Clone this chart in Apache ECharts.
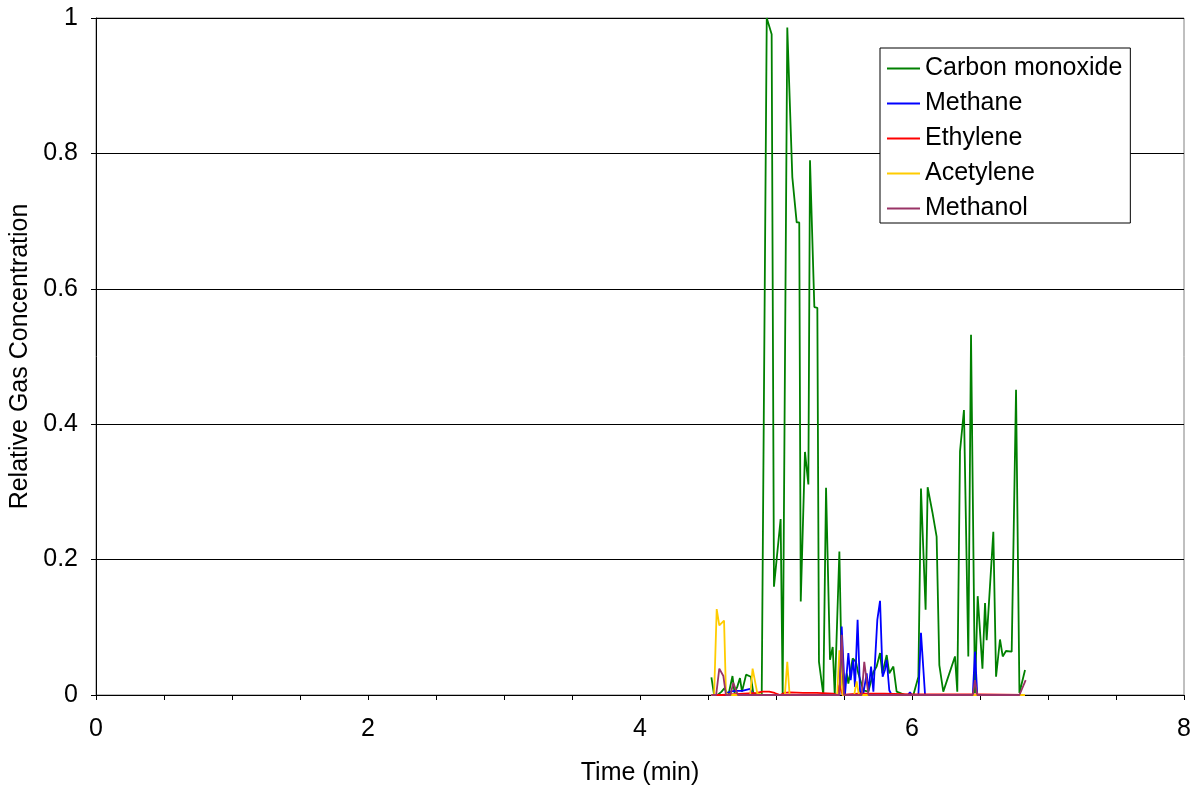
<!DOCTYPE html>
<html>
<head>
<meta charset="utf-8">
<script src="https://cdn.jsdelivr.net/npm/echarts@6/dist/echarts.min.js"></script>
<style>
  html, body { margin: 0; padding: 0; background: #fff; }
</style>
</head>
<body>
<div id="chart" style="width: 1194px;height:788px;"></div>
<script type="text/javascript">

    // time axis ticks (min) and labelled ticks
    var xTicks = [0, 2, 4, 6, 8];
    var yTicks = [0, 0.2, 0.4, 0.6, 0.8, 1];

    var seriesNames = ['Carbon monoxide', 'Methane', 'Ethylene', 'Acetylene', 'Methanol'];

    // Carbon monoxide
    var coTime = [4.525, 4.545, 4.57, 4.60, 4.62, 4.65, 4.68, 4.695, 4.715, 4.735, 4.75, 4.78, 4.815, 4.833, 4.86, 4.895,
        4.932, 4.968, 4.985, 5.034, 5.049, 5.083, 5.12, 5.152, 5.171, 5.182, 5.213, 5.238, 5.25, 5.282, 5.304, 5.316,
        5.348, 5.368, 5.397, 5.417, 5.432, 5.466, 5.483, 5.5, 5.52, 5.532, 5.564, 5.588, 5.605, 5.642, 5.679, 5.716,
        5.74, 5.765, 5.782, 5.814, 5.833, 5.863, 5.887, 5.95, 6.01, 6.047, 6.066, 6.1, 6.115, 6.15, 6.181, 6.201, 6.23,
        6.316, 6.333, 6.353, 6.382, 6.414, 6.434, 6.463, 6.483, 6.518, 6.537, 6.549, 6.598, 6.618, 6.647, 6.667, 6.691,
        6.733, 6.765, 6.79, 6.831];
    var coValue = [0.026, 0, 0, 0.005, 0.01, 0, 0.028, 0.003, 0.012, 0.025, 0.005, 0.03, 0.027, 0.003, 0, 0,
        1.0, 0.976, 0.16, 0.26, 0, 0.986, 0.765, 0.698, 0.698, 0.138, 0.359, 0.311, 0.79, 0.573, 0.572, 0.049,
        0, 0.306, 0.052, 0.071, 0, 0.212, 0.032, 0.005, 0.032, 0.017, 0.054, 0.049, 0.032, 0.007, 0.005, 0.034,
        0.042, 0.062, 0.032, 0.059, 0.032, 0.042, 0.005, 0, 0, 0.027, 0.305, 0.126, 0.307, 0.27, 0.234, 0.044, 0.005,
        0.057, 0.005, 0.36, 0.421, 0.057, 0.532, 0.003, 0.146, 0.039, 0.136, 0.081, 0.241, 0.027, 0.082, 0.057, 0.065,
        0.064, 0.451, 0.003, 0.037];

    // Methane
    var ch4Time = [4.525, 4.625, 4.66, 4.70, 4.75, 4.81, 4.83, 5.466, 5.483, 5.507, 5.532, 5.549, 5.568, 5.581, 5.60,
        5.618, 5.64, 5.667, 5.679, 5.699, 5.716, 5.745, 5.765, 5.784, 5.801, 5.814, 5.833, 5.85, 5.97, 5.985, 6.0,
        6.047, 6.066, 6.096, 6.447, 6.463, 6.48, 6.831];
    var ch4Value = [0, 0, 0.005, 0.006, 0.006, 0.009, 0, 0, 0.101, 0, 0.062, 0.022, 0.052, 0.012, 0.111,
        0.005, 0, 0.032, 0.005, 0.042, 0.005, 0.111, 0.139, 0.027, 0.037, 0.052, 0.007, 0, 0, 0.004, 0,
        0, 0.092, 0, 0, 0.064, 0, 0];

    // Ethylene
    var c2h4Time = [4.525, 4.60, 4.86, 4.90, 4.95, 4.99, 5.03, 5.06, 5.10, 5.20, 5.30, 5.42, 5.45, 5.466, 5.49,
        5.60, 5.80, 6.00, 6.50, 6.831];
    var c2h4Value = [0, 0, 0.003, 0.005, 0.005, 0.003, 0, 0.003, 0.004, 0.003, 0.003, 0.002, 0, 0.015, 0,
        0.002, 0.002, 0.001, 0.001, 0];

    // Acetylene
    var c2h2Time = [4.525, 4.545, 4.564, 4.583, 4.618, 4.632, 4.65, 4.81, 4.828, 4.862, 4.90, 5.065, 5.083, 5.10,
        5.45, 5.466, 5.49, 5.575, 5.593, 5.61, 6.831];
    var c2h2Value = [0, 0, 0.127, 0.103, 0.11, 0.003, 0, 0, 0.039, 0.003, 0, 0, 0.049, 0,
        0, 0.066, 0, 0, 0.02, 0, 0];

    // Methanol
    var meohTime = [4.525, 4.56, 4.583, 4.613, 4.632, 4.665, 4.686, 4.706, 4.72, 5.466, 5.483, 5.50, 5.63, 5.649,
        5.68, 6.447, 6.463, 6.48, 6.79, 6.836];
    var meohValue = [0, 0, 0.039, 0.028, 0, 0, 0.018, 0.007, 0, 0, 0.089, 0, 0, 0.049,
        0, 0, 0.022, 0, 0, 0.022];

    var colors = ['#008000', '#0000ff', '#ff0000', '#ffcc00', '#993366'];
    var times = [coTime, ch4Time, c2h4Time, c2h2Time, meohTime];
    var values = [coValue, ch4Value, c2h4Value, c2h2Value, meohValue];

    function pairs(t, v) {
        return t.map(function (x, i) { return [x, v[i]]; });
    }

    var font = '"Liberation Sans", Arial, sans-serif';
    var myChart = echarts.init(document.getElementById('chart'));

    var option = {
        animation: false,
        color: colors,
        textStyle: { fontFamily: font },
        grid: {
            left: 96, top: 18, width: 1088, height: 677,
            outerBoundsMode: 'none',
            containLabel: false,
            show: true, borderColor: '#808080', borderWidth: 1, backgroundColor: '#fff'
        },
        legend: {
            orient: 'vertical',
            left: 880, top: 48,
            data: seriesNames,
            icon: 'rect',
            itemWidth: 33, itemHeight: 2, itemGap: 8,
            padding: [7, 8, 1, 7],
            backgroundColor: '#fff',
            borderColor: '#000', borderWidth: 1, borderRadius: 0,
            textStyle: { fontSize: 25, color: '#000', lineHeight: 27, fontFamily: font }
        },
        xAxis: {
            type: 'value',
            min: 0, max: 8, interval: 0.5,
            name: 'Time (min)',
            nameLocation: 'middle', nameGap: 66,
            nameTextStyle: { fontSize: 25, color: '#000' },
            axisLine: { show: true, onZero: false, lineStyle: { color: '#000', width: 1 } },
            axisTick: { show: true, inside: false, length: 5, lineStyle: { color: '#000' } },
            axisLabel: {
                fontSize: 25, color: '#000', margin: 22,
                formatter: function (v) { return xTicks.indexOf(v) >= 0 ? String(v) : ''; }
            },
            splitLine: { show: false }
        },
        yAxis: {
            type: 'value',
            min: 0, max: 1, interval: 0.2,
            name: 'Relative Gas Concentration',
            nameLocation: 'middle', nameGap: 62,
            nameTextStyle: { fontSize: 25, color: '#000' },
            axisLine: { show: true, lineStyle: { color: '#000', width: 1 } },
            axisTick: { show: true, inside: false, length: 5, lineStyle: { color: '#000' } },
            axisLabel: {
                fontSize: 25, color: '#000', margin: 18,
                formatter: function (v) { return yTicks.indexOf(Math.round(v * 10) / 10) >= 0 ? String(Math.round(v * 10) / 10) : ''; }
            },
            splitLine: { show: true, lineStyle: { color: '#000', width: 1 } }
        },
        series: seriesNames.map(function (name, i) {
            return {
                name: name,
                type: 'line',
                symbol: 'none',
                data: pairs(times[i], values[i]),
                lineStyle: { width: 1.8, color: colors[i] },
                z: 2 + i
            };
        })
    };
    myChart.setOption(option);
</script>
</body>
</html>
